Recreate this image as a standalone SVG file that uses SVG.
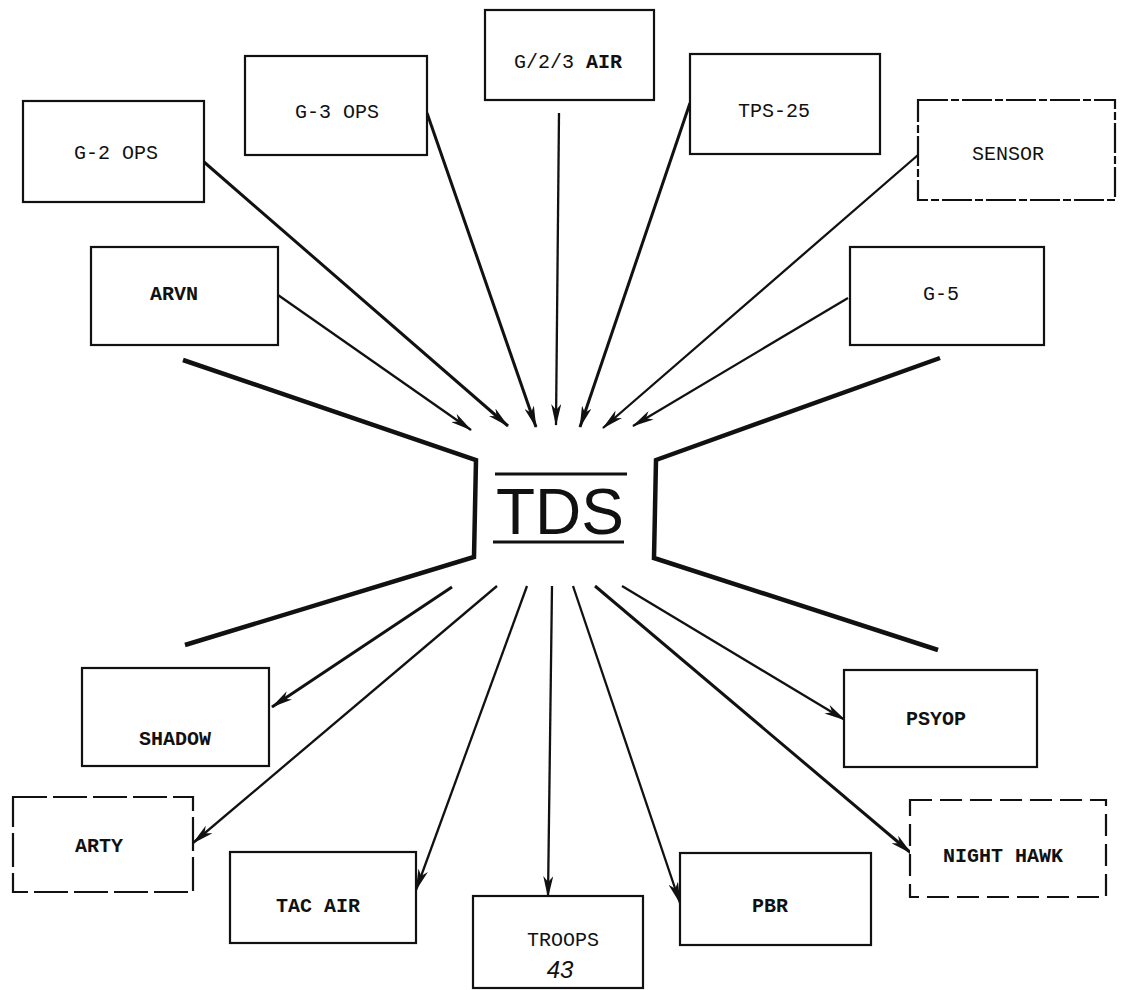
<svg xmlns="http://www.w3.org/2000/svg" width="1122" height="990" viewBox="0 0 1122 990">
<style>
.box{fill:#fff;stroke:#111;stroke-width:2.2}
.lbl{font-family:"Liberation Mono","DejaVu Sans Mono",monospace;font-size:20px;fill:#111;text-anchor:middle}
.b{font-weight:bold}
.conn{stroke:#111;stroke-width:2.3;fill:none;marker-end:url(#ah)}
.thick{stroke-width:3}
.bracket{stroke:#111;stroke-width:4.5;fill:none;stroke-linejoin:miter}
</style>
<defs>
<marker id="ah" markerUnits="userSpaceOnUse" markerWidth="22" markerHeight="10" refX="21" refY="5" orient="auto">
<path d="M0,0 L22,5 L0,10 L6,5 z" fill="#111"/>
</marker>
</defs>
<rect width="1122" height="990" fill="#fff"/>

<g id="tds">
<polyline class="bracket" points="183,360 476,460 474,557 185,645"/>
<polyline class="bracket" points="940,358 656,460 654,558 938,650"/>
<line x1="495" y1="474" x2="627" y2="474" stroke="#111" stroke-width="3"/>
<line x1="493" y1="542" x2="624" y2="542" stroke="#111" stroke-width="3"/>
<text x="560" y="534" font-family="Liberation Sans, Arial, sans-serif" font-size="64" fill="#111" text-anchor="middle" textLength="128" lengthAdjust="spacingAndGlyphs">TDS</text>
</g>

<g id="connectors">
<line class="conn" x1="278" y1="295" x2="471" y2="430"/>
<line class="conn thick" x1="204" y1="162" x2="508" y2="426"/>
<line class="conn thick" x1="427" y1="113" x2="536" y2="427"/>
<line class="conn" x1="559" y1="113" x2="556" y2="425"/>
<line class="conn thick" x1="690" y1="103" x2="580" y2="427"/>
<line class="conn" x1="918" y1="155" x2="603" y2="428"/>
<line class="conn" x1="848" y1="298" x2="633" y2="426"/>
<line class="conn thick" x1="452" y1="587" x2="272" y2="707"/>
<line class="conn" x1="497" y1="586" x2="193" y2="843"/>
<line class="conn" x1="527" y1="586" x2="416" y2="890"/>
<line class="conn" x1="552" y1="586" x2="548" y2="897"/>
<line class="conn" x1="573" y1="586" x2="680" y2="903"/>
<line class="conn thick" x1="595" y1="586" x2="911" y2="853"/>
<line class="conn" x1="622" y1="586" x2="845" y2="720"/>
</g>

<g id="g2ops"><rect class="box" x="23" y="101" width="181" height="101"/><text class="lbl" x="116" y="159">G-2 OPS</text></g>
<g id="g3ops"><rect class="box" x="245" y="56" width="182" height="99"/><text class="lbl" x="337" y="118">G-3 OPS</text></g>
<g id="g23air"><rect class="box" x="485" y="10" width="169" height="90"/><text class="lbl" x="568" y="68">G/2/3 <tspan class="b">AIR</tspan></text></g>
<g id="tps25"><rect class="box" x="690" y="54" width="190" height="100"/><text class="lbl" x="774" y="117">TPS-25</text></g>
<g id="sensor"><rect class="box" x="918" y="100" width="197" height="100" stroke-dasharray="30 3 8 3"/><text class="lbl" x="1008" y="160">SENSOR</text></g>
<g id="arvn"><rect class="box" x="91" y="247" width="187" height="98"/><text class="lbl b" x="174" y="300">ARVN</text></g>
<g id="g5"><rect class="box" x="850" y="247" width="194" height="98"/><text class="lbl" x="941" y="300">G-5</text></g>
<g id="shadow"><rect class="box" x="82" y="668" width="187" height="98"/><text class="lbl b" x="175" y="745">SHADOW</text></g>
<g id="arty"><rect class="box" x="13" y="797" width="180" height="95" stroke-dasharray="34 6"/><text class="lbl b" x="99" y="852">ARTY</text></g>
<g id="tacair"><rect class="box" x="230" y="852" width="186" height="91"/><text class="lbl b" x="318" y="912">TAC AIR</text></g>
<g id="troops"><rect class="box" x="473" y="896" width="170" height="92"/><text class="lbl" x="563" y="946">TROOPS</text><text x="560" y="978" font-family="Liberation Sans, Arial, sans-serif" font-style="italic" font-size="24" fill="#111" text-anchor="middle">43</text></g>
<g id="pbr"><rect class="box" x="680" y="853" width="191" height="92"/><text class="lbl b" x="770" y="912">PBR</text></g>
<g id="psyop"><rect class="box" x="844" y="670" width="193" height="97"/><text class="lbl b" x="936" y="725">PSYOP</text></g>
<g id="nighthawk"><rect class="box" x="910" y="800" width="196" height="97" stroke-dasharray="22 8"/><text class="lbl b" x="1003" y="862">NIGHT HAWK</text></g>
</svg>
